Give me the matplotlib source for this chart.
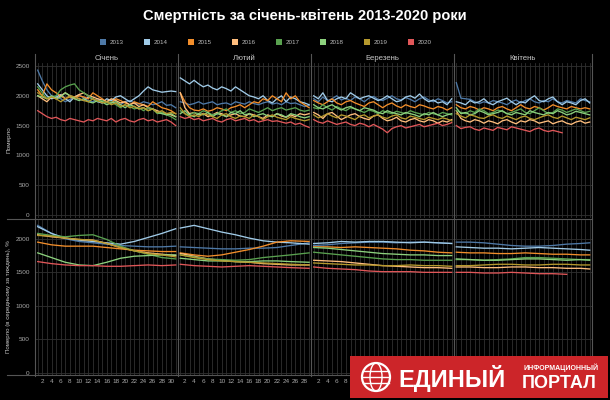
import numpy as np
import matplotlib
matplotlib.use('Agg')
import matplotlib.pyplot as plt
from matplotlib.patches import Patch, Rectangle, Ellipse
from matplotlib.lines import Line2D

plt.rcParams['font.family'] = ['Liberation Sans', 'DejaVu Sans']

# ---- data ----
years = [2013, 2014, 2015, 2016, 2017, 2018, 2019, 2020]
colors = ['#4e79a7', '#a0cbe8', '#f28e2b', '#ffbe7d', '#59a14f', '#8cd17d', '#b6992d', '#e15759']
months = ['Січень', 'Лютий', 'Березень', 'Квітень']
month_days = [31, 29, 31, 30]

# daily deaths, one list per month (Jan, Feb, Mar, Apr)
deaths_2013 = [
    [2430, 2250, 2100, 2000, 1980, 1950, 1900, 1940, 1980, 2020, 1960, 1920, 1900, 1950, 1880, 1900,
     1930, 1870, 1850, 1900, 1920, 1880, 1860, 1900, 1880, 1850, 1870, 1900, 1840, 1850, 1800],
    [1900, 1880, 1850, 1870, 1900, 1860, 1880, 1900, 1850, 1870, 1880, 1850, 1900, 1880, 1860,
     1900, 1870, 1850, 1880, 1900, 1860, 1880, 1850, 1900, 1870, 1880, 1850, 1820, 1840],
    [1950, 1900, 1980, 1920, 1950, 2000, 1930, 1960, 1920, 1980, 1950, 1900, 1960, 1990, 1940, 1920,
     1960, 2000, 1950, 1930, 1970, 1940, 1900, 1950, 1980, 1930, 1900, 1950, 1920, 1880, 1900],
    [2220, 1960, 1950, 1940, 1900, 1870, 1900, 1880, 1920, 1900, 1880, 1850, 1900, 1930, 1880,
     1920, 1950, 1900, 1880, 1920, 1900, 1950, 1900, 1880, 1920, 1900, 1880, 1950, 1920, 1900],
]
deaths_2014 = [
    [2200, 2100, 2000, 1950, 1980, 2020, 1950, 1900, 1980, 1950, 1920, 1980, 1950, 1900, 1880, 1950,
     1920, 1980, 2000, 1950, 1900, 1950, 2000, 2080, 2150, 2100, 2080, 2060, 2070, 2080, 2070],
    [2300, 2250, 2200, 2260, 2200, 2150, 2180, 2130, 2100, 2150, 2120, 2080, 2150, 2100, 2050,
     2000, 1980, 1950, 2000, 1920, 1880, 1950, 2000, 1900, 1980, 1950, 1900, 1880, 1850],
    [2000, 1950, 2050, 1920, 1900, 1950, 1980, 1950, 2050, 2000, 1950, 1980, 2000, 1960, 1920, 1950,
     2000, 1950, 1900, 1920, 1980, 2000, 1960, 2030, 1950, 1900, 1930, 1880, 1900, 1850, 1950],
    [1900, 1880, 1850, 1920, 1880, 1900, 1950, 1880, 1850, 1900, 1930, 1960, 1900, 1850, 1900,
     1880, 1950, 2000, 1920, 1900, 1950, 1980, 1900, 1850, 1900, 1880, 1850, 1920, 1950, 1880],
]
deaths_2015 = [
    [2100, 2000, 2200, 2100, 2050, 2000, 1950, 1980, 1950, 2000, 1980, 1950, 2050, 2000, 1950, 1900,
     1880, 1950, 1920, 1880, 1850, 1900, 1870, 1850, 1820, 1900, 1850, 1800, 1780, 1750, 1700],
    [2050, 1900, 1800, 1760, 1750, 1780, 1740, 1760, 1800, 1780, 1750, 1800, 1820, 1850, 1800,
     1850, 1900, 1880, 1950, 1920, 2000, 1950, 1900, 2050, 1950, 2000, 1900, 1850, 1800],
    [1920, 1880, 1850, 1900, 1950, 1880, 1850, 1900, 1920, 1880, 1850, 1820, 1880, 1900, 1850, 1800,
     1850, 1880, 1830, 1800, 1850, 1820, 1800, 1850, 1830, 1800, 1780, 1820, 1800, 1760, 1800],
    [1850, 1800, 1780, 1820, 1800, 1760, 1800, 1780, 1750, 1800, 1820, 1780, 1750, 1800, 1850,
     1800, 1780, 1820, 1800, 1760, 1800, 1850, 1820, 1800, 1780, 1820, 1800, 1780, 1800, 1780],
]
deaths_2016 = [
    [2000, 1950, 1900, 1980, 1950, 2000, 2050, 2000, 1980, 2020, 2050, 2000, 1980, 1950, 1930, 1900,
     1950, 1920, 1880, 1900, 1850, 1880, 1820, 1850, 1800, 1780, 1750, 1720, 1700, 1680, 1650],
    [2050, 1800, 1700, 1720, 1680, 1700, 1650, 1680, 1720, 1700, 1650, 1680, 1700, 1660, 1650,
     1700, 1680, 1650, 1620, 1680, 1650, 1700, 1660, 1640, 1680, 1650, 1700, 1680, 1700],
    [1720, 1680, 1620, 1700, 1720, 1660, 1600, 1640, 1680, 1700, 1650, 1620, 1600, 1660, 1680, 1620,
     1580, 1600, 1640, 1580, 1560, 1600, 1620, 1580, 1560, 1600, 1580, 1540, 1580, 1560, 1600],
    [1750, 1620, 1580, 1560, 1600, 1580, 1540, 1580, 1560, 1530, 1580, 1600, 1560, 1530, 1580,
     1560, 1600, 1580, 1540, 1560, 1580, 1530, 1560, 1580, 1540, 1520, 1560, 1580, 1540, 1560],
]
deaths_2017 = [
    [2150, 2050, 1950, 1980, 2000, 2100, 2150, 2180, 2200, 2100, 2050, 2000, 1950, 1900, 1920, 1880,
     1900, 1850, 1800, 1850, 1820, 1780, 1800, 1750, 1800, 1780, 1700, 1720, 1680, 1650, 1600],
    [1750, 1700, 1680, 1720, 1700, 1750, 1720, 1680, 1700, 1750, 1780, 1720, 1750, 1700, 1720,
     1780, 1750, 1720, 1760, 1800, 1750, 1780, 1800, 1760, 1780, 1800, 1760, 1740, 1760],
    [1800, 1780, 1850, 1800, 1760, 1820, 1780, 1750, 1800, 1780, 1750, 1720, 1760, 1740, 1700, 1750,
     1720, 1700, 1740, 1720, 1700, 1750, 1720, 1700, 1680, 1720, 1700, 1680, 1720, 1700, 1680],
    [1750, 1720, 1700, 1750, 1720, 1780, 1750, 1700, 1720, 1760, 1740, 1700, 1720, 1750, 1780,
     1720, 1700, 1750, 1800, 1750, 1700, 1720, 1780, 1760, 1720, 1750, 1780, 1750, 1720, 1740],
]
deaths_2018 = [
    [2000, 1980, 1950, 2000, 1950, 1980, 2050, 2000, 1950, 1920, 1950, 1900, 1880, 1920, 1900, 1850,
     1880, 1900, 1850, 1800, 1850, 1820, 1780, 1800, 1750, 1780, 1720, 1700, 1680, 1700, 1650],
    [1700, 1750, 1680, 1650, 1700, 1680, 1720, 1650, 1700, 1680, 1650, 1720, 1700, 1750, 1680,
     1700, 1650, 1680, 1700, 1660, 1650, 1700, 1680, 1640, 1700, 1680, 1650, 1630, 1650],
    [1850, 1800, 1780, 1820, 1850, 1800, 1760, 1800, 1820, 1780, 1750, 1800, 1780, 1760, 1720, 1700,
     1750, 1720, 1700, 1680, 1720, 1700, 1680, 1650, 1700, 1680, 1720, 1680, 1650, 1680, 1700],
    [1800, 1700, 1720, 1680, 1700, 1750, 1720, 1680, 1700, 1720, 1750, 1700, 1680, 1720, 1700,
     1680, 1750, 1720, 1700, 1680, 1720, 1700, 1750, 1720, 1680, 1700, 1740, 1720, 1700, 1680],
]
deaths_2019 = [
    [2050, 2000, 1950, 1980, 1950, 1900, 1950, 2000, 1980, 1950, 1920, 1900, 1950, 1920, 1880, 1900,
     1850, 1880, 1820, 1850, 1800, 1820, 1780, 1800, 1750, 1780, 1720, 1750, 1700, 1720, 1700],
    [1800, 1700, 1650, 1680, 1650, 1700, 1680, 1650, 1620, 1680, 1700, 1650, 1620, 1660, 1650,
     1620, 1680, 1650, 1600, 1650, 1680, 1640, 1620, 1600, 1650, 1620, 1600, 1580, 1600],
    [1680, 1630, 1660, 1700, 1660, 1630, 1680, 1660, 1630, 1600, 1660, 1680, 1630, 1660, 1680, 1640,
     1620, 1660, 1680, 1630, 1610, 1660, 1640, 1620, 1600, 1640, 1620, 1600, 1630, 1610, 1580],
    [1700, 1660, 1630, 1680, 1660, 1630, 1620, 1660, 1680, 1640, 1620, 1660, 1630, 1600, 1640,
     1660, 1620, 1600, 1630, 1660, 1680, 1640, 1620, 1660, 1630, 1600, 1640, 1620, 1600, 1630],
]
deaths_2020 = [
    [1750, 1700, 1650, 1620, 1640, 1600, 1580, 1620, 1600, 1580, 1560, 1600, 1580, 1620, 1600, 1580,
     1620, 1560, 1600, 1620, 1580, 1560, 1600, 1620, 1580, 1600, 1560, 1580, 1600, 1560, 1500],
    [1650, 1620, 1640, 1600, 1620, 1580, 1600, 1620, 1580, 1560, 1600, 1620, 1580, 1600, 1620,
     1580, 1600, 1560, 1580, 1600, 1570, 1580, 1560, 1540, 1560, 1520, 1540, 1500, 1470],
    [1600, 1560, 1540, 1580, 1550, 1520, 1540, 1560, 1520, 1500, 1540, 1520, 1480, 1520, 1480, 1440,
     1380, 1450, 1480, 1500, 1460, 1480, 1500, 1520, 1480, 1500, 1520, 1540, 1500, 1520, 1550],
    [1500, 1450, 1470, 1480, 1440, 1420, 1460, 1440, 1420, 1470, 1450, 1430, 1480, 1460, 1440,
     1420, 1400, 1440, 1460, 1420, 1400, 1420, 1400, 1380],
]

# weekly average, sampled days per month
weekly_days = [
    [1, 4, 7, 10, 13, 16, 19, 22, 25, 28, 31],
    [1, 4, 7, 10, 13, 16, 19, 22, 25, 29],
    [1, 4, 7, 10, 13, 16, 19, 22, 25, 28, 31],
    [1, 4, 7, 10, 13, 16, 19, 22, 25, 28, 30],
]
weekly_2013 = [[2200, 2080, 2000, 1960, 1940, 1920, 1900, 1890, 1880, 1880, 1890],
               [1880, 1870, 1860, 1850, 1850, 1860, 1860, 1870, 1900, 1940],
               [1900, 1910, 1930, 1940, 1950, 1950, 1940, 1950, 1950, 1940, 1930],
               [1950, 1950, 1940, 1920, 1900, 1890, 1890, 1900, 1920, 1930, 1940]]
weekly_2014 = [[2180, 2080, 2010, 1980, 1960, 1940, 1920, 1960, 2020, 2080, 2150],
               [2160, 2200, 2150, 2100, 2060, 2010, 1970, 1950, 1940, 1920],
               [1930, 1940, 1960, 1950, 1960, 1960, 1950, 1940, 1950, 1940, 1930],
               [1880, 1870, 1860, 1860, 1850, 1860, 1870, 1860, 1850, 1840, 1830]]
weekly_2015 = [[1950, 1910, 1890, 1890, 1890, 1870, 1850, 1830, 1820, 1810, 1810],
               [1790, 1760, 1740, 1760, 1800, 1840, 1890, 1950, 1970, 1960],
               [1880, 1880, 1870, 1880, 1870, 1860, 1850, 1830, 1820, 1800, 1790],
               [1800, 1790, 1790, 1780, 1780, 1790, 1780, 1770, 1770, 1760, 1760]]
weekly_2016 = [[2060, 2030, 2010, 1990, 1980, 1930, 1870, 1820, 1790, 1770, 1750],
               [1780, 1740, 1700, 1680, 1660, 1650, 1630, 1620, 1610, 1610],
               [1680, 1670, 1660, 1640, 1620, 1600, 1590, 1580, 1570, 1570, 1560],
               [1580, 1580, 1570, 1570, 1580, 1580, 1570, 1570, 1560, 1560, 1550]]
weekly_2017 = [[2080, 2050, 2030, 2050, 2060, 1990, 1890, 1820, 1770, 1720, 1700],
               [1760, 1730, 1700, 1690, 1680, 1690, 1720, 1740, 1760, 1790],
               [1800, 1780, 1760, 1740, 1720, 1700, 1690, 1690, 1680, 1680, 1680],
               [1690, 1690, 1680, 1690, 1700, 1720, 1720, 1710, 1700, 1690, 1690]]
weekly_2018 = [[1790, 1720, 1650, 1610, 1600, 1650, 1710, 1740, 1750, 1760, 1760],
               [1710, 1690, 1670, 1670, 1660, 1660, 1670, 1670, 1660, 1650],
               [1870, 1860, 1840, 1820, 1800, 1780, 1770, 1760, 1760, 1750, 1750],
               [1700, 1690, 1680, 1680, 1690, 1700, 1700, 1690, 1680, 1690, 1680]]
weekly_2019 = [[2050, 2040, 2010, 1990, 1980, 1930, 1870, 1820, 1780, 1760, 1730],
               [1760, 1720, 1690, 1670, 1660, 1650, 1640, 1630, 1620, 1610],
               [1640, 1630, 1620, 1610, 1610, 1600, 1600, 1610, 1600, 1600, 1590],
               [1600, 1600, 1610, 1620, 1620, 1610, 1610, 1620, 1620, 1610, 1610]]
weekly_2020 = [[1660, 1630, 1610, 1600, 1600, 1590, 1590, 1600, 1610, 1600, 1610],
               [1620, 1600, 1590, 1580, 1590, 1600, 1590, 1580, 1570, 1560],
               [1580, 1560, 1550, 1540, 1520, 1510, 1510, 1510, 1500, 1500, 1500],
               [1500, 1500, 1490, 1490, 1500, 1490, 1480, 1480, 1470]]

daily = [deaths_2013, deaths_2014, deaths_2015, deaths_2016,
         deaths_2017, deaths_2018, deaths_2019, deaths_2020]
weekly = [weekly_2013, weekly_2014, weekly_2015, weekly_2016,
          weekly_2017, weekly_2018, weekly_2019, weekly_2020]

# ---- layout (pixels) ----
W, H = 610, 400
fig = plt.figure(figsize=(6.1, 4.0), dpi=100, facecolor='black')


def fx(px):
    return px / W


def fy(py):
    return 1 - py / H


x_left = 35.4
day_px = 4.6
badge_x = 350  # the logo badge covers tick labels right of this
rows = [
    (63, 218, (-50, 2550), np.arange(0, 2501, 500)),
    (220, 375, (-30, 2280), np.arange(0, 2001, 500)),
]
grid_c = '#303030'
tick_c = '#a8a8a8'

for r, (ytop, ybot, ylim, yticks) in enumerate(rows):
    start = x_left
    for m, nd in enumerate(month_days):
        ax = fig.add_axes([fx(start), fy(ybot), nd * day_px / W, (ybot - ytop) / H])
        ax.set_facecolor('black')
        ax.set_xlim(0.5, nd + 0.5)
        ax.set_ylim(*ylim)
        for sp in ax.spines.values():
            sp.set_visible(False)
        days = np.arange(1, nd + 1)
        ax.set_xticks(days)
        ax.set_yticks(yticks)
        ax.grid(True, color=grid_c, lw=0.6)
        ax.set_axisbelow(True)
        ax.tick_params(length=0, colors=tick_c, labelsize=4.6, pad=3)
        if r == 1:
            labels = []
            for d in days:
                px = start + (d - 0.5) * day_px
                labels.append(str(d) if d % 2 == 0 and px < badge_x - 4 else '')
            ax.set_xticklabels(labels)
        else:
            ax.tick_params(labelbottom=False)
        if m > 0:
            ax.tick_params(labelleft=False)
        else:
            ax.tick_params(axis='y', pad=4)
        for yi in range(len(years)):
            if r == 0:
                vals = daily[yi][m]
                xs = np.arange(1, len(vals) + 1)
            else:
                vals = weekly[yi][m]
                xs = weekly_days[m][:len(vals)]
            ax.plot(xs, vals, color=colors[yi], lw=0.95, solid_joinstyle='round')
        start += nd * day_px

# pane separators
bounds = [x_left]
for nd in month_days:
    bounds.append(bounds[-1] + nd * day_px)
for b in bounds:
    fig.add_artist(Line2D([fx(b), fx(b)], [fy(54), fy(376)], color='#555555', lw=0.8))
for yy in (218.5, 374.5):
    fig.add_artist(Line2D([fx(7), fx(bounds[-1])], [fy(yy), fy(yy)], color='#555555', lw=0.8))

# month headers
for m, name in enumerate(months):
    fig.text(fx((bounds[m] + bounds[m + 1]) / 2), fy(58), name, ha='center', va='center',
             color='#c8c8c8', fontsize=5.6)

# axis titles
fig.text(fx(9), fy(140), 'Померло', rotation=90, ha='center', va='center',
         color='#c8c8c8', fontsize=4.6)
fig.text(fx(9), fy(297), 'Померло (в середньому за тиждень), %', rotation=90,
         ha='center', va='center', color='#c8c8c8', fontsize=4.4)

# title
fig.text(0.5, fy(16), 'Смертність за січень-квітень 2013-2020 роки', ha='center', va='center',
         color='white', fontsize=10.5, fontweight='bold')

# legend
handles = [Patch(facecolor=c, edgecolor='none', label=str(y)) for y, c in zip(years, colors)]
fig.legend(handles=handles, loc='center', bbox_to_anchor=(fx(266), fy(42)), ncol=8,
           frameon=False, fontsize=4.5, labelcolor='#bbbbbb', handlelength=1.0,
           handleheight=1.0, handletextpad=0.6, columnspacing=3.2)

# watermark badge
fig.add_artist(Rectangle((fx(350), fy(398)), 258 / W, 42 / H, transform=fig.transFigure,
                         facecolor='#cc2529', edgecolor='none', zorder=10))
fig.add_artist(Ellipse((fx(376), fy(377)), 28 / W, 28 / H, transform=fig.transFigure,
                       facecolor='none', edgecolor='white', lw=1.6, zorder=11))
fig.add_artist(Ellipse((fx(376), fy(377)), 12 / W, 28 / H, transform=fig.transFigure,
                       facecolor='none', edgecolor='white', lw=1.0, zorder=11))
for dy in (-6, 0, 6):
    fig.add_artist(Line2D([fx(363), fx(389)], [fy(377 + dy), fy(377 + dy)], color='white',
                          lw=1.0, zorder=11))
fig.text(fx(398), fy(378), 'ЕДИНЫЙ', ha='left', va='center', color='white',
         fontsize=17, fontweight='bold', zorder=12)
fig.text(fx(523), fy(367.5), 'ИНФОРМАЦИОННЫЙ', ha='left', va='center', color='white',
         fontsize=5.0, fontweight='bold', zorder=12)
fig.text(fx(522), fy(383), 'ПОРТАЛ', ha='left', va='center', color='white',
         fontsize=13, fontweight='bold', zorder=12)

fig.savefig('out.png', dpi=100, facecolor='black')
